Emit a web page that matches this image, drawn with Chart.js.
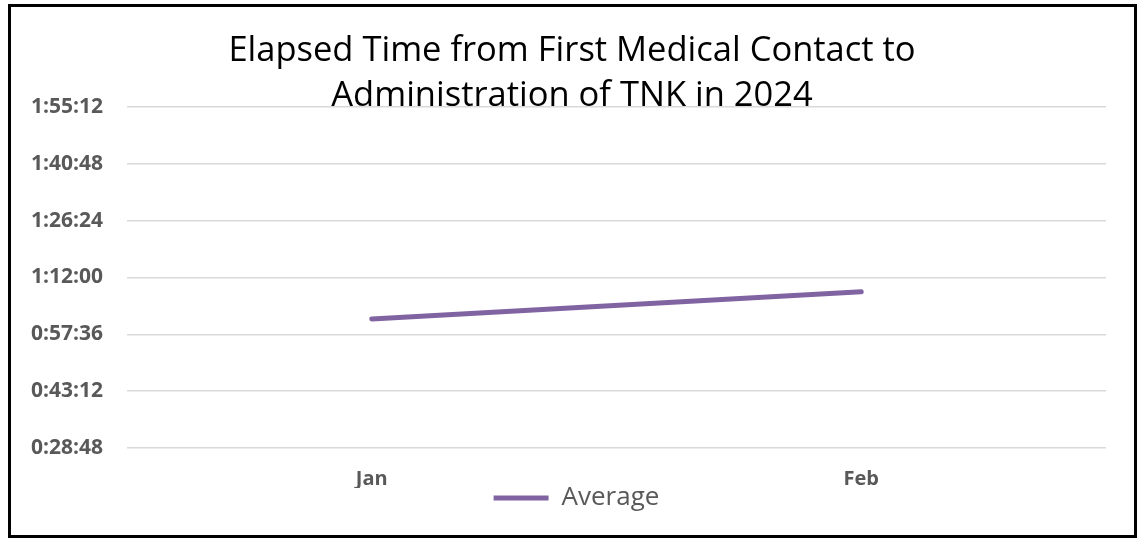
<!DOCTYPE html>
<html>
<head>
<meta charset="utf-8">
<script src="https://cdn.jsdelivr.net/npm/chart.js@4/dist/chart.umd.min.js"></script>
<style>
	html, body { margin: 0; padding: 0; background: #fff; }
	#wrap { position: relative; width: 1141px; height: 538px; overflow: hidden; }
	#frame { position: absolute; left: 8px; top: 4px; width: 1129px; height: 534px; border: 3px solid #000; box-sizing: border-box; pointer-events: none; }
	#elapsed-chart { position: absolute; left: 0; top: 0; }
</style>
</head>
<body>
<div id="wrap">
	<canvas id="elapsed-chart" width="1141" height="538"></canvas>
	<div id="frame"></div>
</div>
<script>
// monthly averages, in seconds
var months = ['Jan', 'Feb'];
var averageSecs = [3690, 4104];
var seriesName = 'Average';
var titleLines = ['Elapsed Time from First Medical Contact to', 'Administration of TNK in 2024'];

// axis runs 0:28:48 .. 1:55:12 in 14:24 steps
var yMin = 1728, yMax = 6912, yStep = 864;

function hms(secs) {
	var h = Math.floor(secs / 3600),
	    m = Math.floor((secs % 3600) / 60),
	    s = Math.round(secs % 60);
	return h + ':' + (m < 10 ? '0' : '') + m + ':' + (s < 10 ? '0' : '') + s;
}

var purple = '#8064a2',
    grey = '#595959';

// title sits over the top of the plot, so draw it by hand
var overlayTitle = {
	id: 'overlayTitle',
	afterDraw: function(chart) {
		var ctx = chart.ctx;
		ctx.save();
		ctx.fillStyle = '#000';
		ctx.font = '34.5px "Open Sans"';
		ctx.textAlign = 'center';
		ctx.textBaseline = 'alphabetic';
		ctx.fillText(titleLines[0], 572, 61);
		ctx.fillText(titleLines[1], 572, 106);
		ctx.restore();
	}
};

// pin the legend just under the month labels, a little right of centre
var legendNudge = {
	id: 'legendNudge',
	afterLayout: function(chart) {
		var lg = chart.legend,
		    h = lg.bottom - lg.top;
		lg.left += 11; lg.right += 11;
		lg.top = chart.chartArea.bottom + 37;
		lg.bottom = lg.top + h;
	}
};

var config = {
	type: 'line',
	data: {
		labels: months,
		datasets: [{
			label: seriesName,
			data: averageSecs,
			borderColor: purple,
			backgroundColor: purple,
			borderWidth: 5,
			borderCapStyle: 'round',
			pointRadius: 0,
			pointStyle: 'line',
			tension: 0
		}]
	},
	options: {
		responsive: false,
		animation: false,
		layout: { padding: { top: 107, left: 25, right: 35, bottom: 14 } },
		plugins: {
			title: { display: false },
			tooltip: { enabled: false },
			legend: {
				position: 'bottom',
				labels: {
					usePointStyle: true,
					pointStyleWidth: 55,
					boxHeight: 5,
					color: grey,
					font: { family: 'Open Sans', size: 26 },
					padding: 0
				}
			}
		},
		scales: {
			x: {
				offset: true,
				grid: { display: false },
				border: { display: false },
				ticks: {
					color: grey,
					padding: 13,
					font: { family: 'Open Sans', size: 20, weight: 'bold', lineHeight: 1 }
				},
				afterFit: function(scale) { scale.height = 40; }
			},
			y: {
				min: yMin,
				max: yMax,
				grid: { color: '#d9d9d9', lineWidth: 1.5, drawTicks: false },
				border: { display: false },
				ticks: {
					stepSize: yStep,
					color: grey,
					padding: 24,
					font: { family: 'Open Sans', size: 21, weight: 'bold' },
					callback: function(v) { return hms(v); }
				},
				afterFit: function(scale) { scale.width = 102; }
			}
		}
	},
	plugins: [overlayTitle, legendNudge]
};

var graph = new Chart(document.getElementById('elapsed-chart'), config);
</script>
</body>
</html>
